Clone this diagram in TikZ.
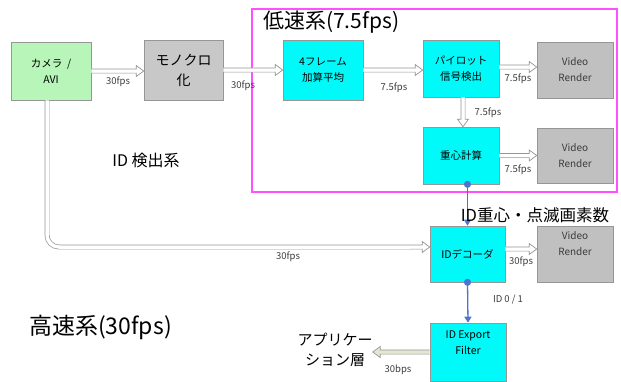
\documentclass[tikz,border=0pt]{standalone}
\usepackage{fontspec}
\setmainfont{Noto Sans CJK JP}
\usetikzlibrary{arrows.meta,calc}
\definecolor{boxline}{RGB}{150,150,150}
\definecolor{camgreen}{RGB}{184,245,184}
\definecolor{monogray}{RGB}{200,200,200}
\definecolor{rendergray}{RGB}{192,192,192}
\definecolor{boxcyan}{RGB}{0,250,250}
\definecolor{lowpink}{RGB}{255,80,255}
\definecolor{idblue}{RGB}{80,115,205}
\definecolor{appgreen}{RGB}{226,232,208}
\definecolor{txtgray}{RGB}{60,60,60}

\begin{document}
\begin{tikzpicture}[x=1pt,y=-1pt, % 1 unit = 1 px of the drawing
  blk/.style={draw=boxline, line width=0.6pt, align=center, inner sep=1pt,
    minimum width=76pt, minimum height=57pt, font=\fontsize{10.5}{16}\selectfont},
  cambox/.style={blk, fill=camgreen, minimum width=80pt, minimum height=58pt},
  monobox/.style={blk, fill=monogray, minimum width=79pt, minimum height=60pt,
    font=\fontsize{14}{20}\selectfont},
  procbox/.style={blk, fill=boxcyan},
  renderbox/.style={blk, fill=rendergray, text=txtgray, font=\fontsize{10}{16}\selectfont},
  lbl/.style={text=txtgray, inner sep=0pt, font=\fontsize{9.5}{10}\selectfont},
  pipe/.style={draw=boxline, fill=white, line width=0.7pt, to path={
    ($(\tikztostart)!2.1pt!90:(\tikztotarget)$)
    -- ($(\tikztotarget)!7.5pt!(\tikztostart)!2.1pt!-90:(\tikztostart)$)
    -- ($(\tikztotarget)!7.5pt!(\tikztostart)!5.5pt!-90:(\tikztostart)$)
    -- (\tikztotarget)
    -- ($(\tikztotarget)!7.5pt!(\tikztostart)!5.5pt!90:(\tikztostart)$)
    -- ($(\tikztotarget)!7.5pt!(\tikztostart)!2.1pt!90:(\tikztostart)$)
    -- ($(\tikztostart)!2.1pt!-90:(\tikztotarget)$)}},
  pipeline/.style={draw=boxline, line width=0.7pt, double=white, double distance=3.5pt},
  idline/.style={draw=idblue, line width=1.3pt, shorten <=-3.5pt,
    {Circle[length=7pt]}-{Triangle[length=6pt, width=7pt]}}]
\useasboundingbox (0,0) rectangle (621,381);
\fill[white] (0,0) rectangle (621,381);

\draw[lowpink, line width=1.4pt] (252,9) rectangle (617,192);
\node[anchor=west, inner sep=0pt, font=\fontsize{21}{24}\selectfont] (lowtitle) at (263,22) {低速系(7.5fps)};
\node[anchor=west, inner sep=0pt, font=\fontsize{23}{26}\selectfont] (hightitle) at (29,327) {高速系(30fps)};
\node[inner sep=0pt, font=\fontsize{16}{18}\selectfont] (idsys) at (146,160) {ID 検出系};

\node[cambox] (cam) at (51,71) {カメラ\ \ /\\AVI};
\node[monobox] (mono) at (183.5,70) {モノクロ\\化};
\node[procbox, minimum width=80pt, minimum height=60pt] (avg) at (323,70) {4フレーム\\加算平均};
\node[procbox] (pilot) at (461,68.5) {パイロット\\信号検出};
\node[renderbox, minimum height=56pt] (vr1) at (575,70) {Video\\Render};
\node[procbox] (cog) at (461,155.5) {重心計算};
\node[renderbox, minimum height=55pt] (vr2) at (575,155.5) {Video\\Render};
\node[procbox, minimum width=75pt, minimum height=56pt] (dec) at (467.5,254) {IDデコーダ};
\node[renderbox, minimum height=56pt] (vr3) at (575,254) {Video\\Render\\[5pt]};
\node[procbox, minimum width=76pt, minimum height=58pt] (exp) at (468,352) {ID Export\\Filter\\[2pt]};
\node[align=center, inner sep=0pt, font=\fontsize{15}{20}\selectfont] (app) at (335,350) {アプリケー\\ション層};

\draw[pipe] (cam.east) to (cam.east -| mono.west);
\draw[pipe] (mono.east) to (mono.east -| avg.west);
\draw[pipe] (avg.east) to (avg.east -| pilot.west);
\draw[pipe] ([yshift=1.5pt]pilot.east) to ([yshift=1.5pt]pilot.east -| vr1.west);
\draw[pipe] ([xshift=2pt]pilot.south) to ([xshift=2pt]cog.north);
\draw[pipe] (cog.east) to (cog.east -| vr2.west);
\draw[pipe] ([yshift=5pt]dec.east) to ([yshift=5pt]dec.east -| vr3.west);
\coordinate (bend) at (410,247);
\draw[pipeline, rounded corners=12pt] ([xshift=-4pt]cam.south) |- (bend);
\draw[pipe] (bend) to (bend -| dec.west);
\draw[pipe, fill=appgreen] (exp.west) to (exp.west -| app.east);
\draw[idline] (cog.south -| dec.north) -- (dec.north);
\draw[idline] (dec.south) -- (exp.north);
\node[inner sep=0pt, font=\fontsize{16.5}{18}\selectfont] (cogtxt) at (535,215) {ID重心・点滅画素数};

\node[lbl] (f1) at (118,82) {30fps};\node[lbl] (f2) at (243,86) {30fps};
\node[lbl] (f3) at (394,88) {7.5fps};\node[lbl] (f4) at (518,79) {7.5fps};
\node[lbl] (f5) at (488,113) {7.5fps};\node[lbl] (f6) at (518,170) {7.5fps};
\node[lbl] (f7) at (288,257) {30fps};\node[lbl] (f8) at (521,262) {30fps};
\node[lbl] (f9) at (508,300) {ID 0 / 1};\node[lbl] (f10) at (398,370) {30bps};
\end{tikzpicture}
\end{document}
